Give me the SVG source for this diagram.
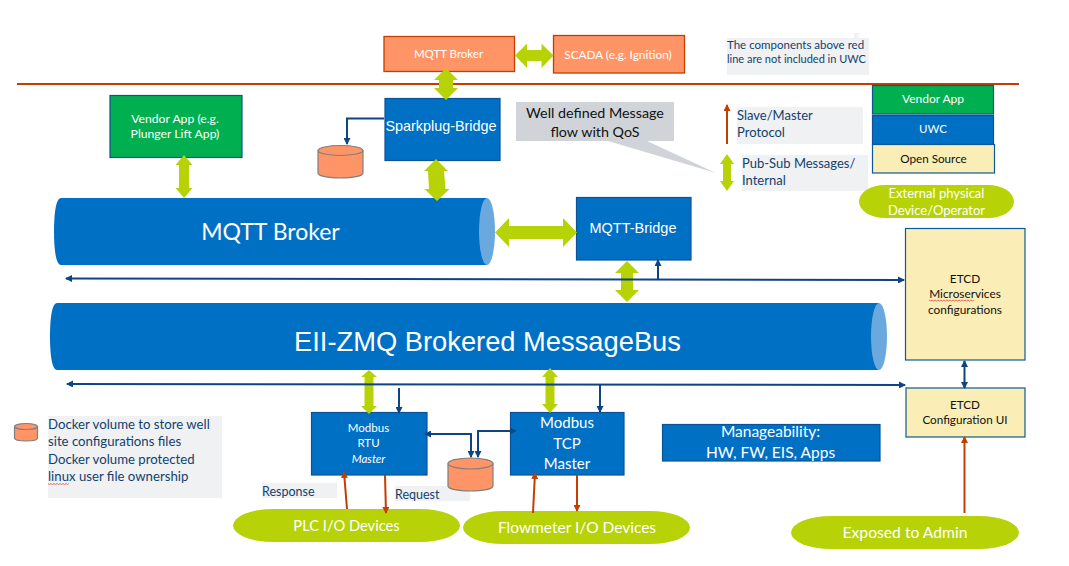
<svg xmlns="http://www.w3.org/2000/svg" width="1069" height="566" viewBox="0 0 1069 566">
<style>
text{font-family:"Lato","Open Sans",sans-serif;text-anchor:middle}
.w{fill:#fff}.k{fill:#111}.n{fill:#123f6d;text-anchor:start}
.r{font-family:"Liberation Sans",sans-serif}
.blue{fill:#0070c5;stroke:#0b5394;stroke-width:1.2}
.org{fill:#ff9466;stroke:#c43e00;stroke-width:1.3}
.grn{fill:#00b050;stroke:#0b5394;stroke-width:1.2}
.yel{fill:#faedb5;stroke:#0b5a9c;stroke-width:1.2}
.lime{fill:#b7d307}
.note{fill:#eff1f3}
.cyl{fill:#ff9466;stroke:#7f7f7f;stroke-width:1.2}
.nav{fill:none;stroke:#0e4482;stroke-width:2}
.red{fill:none;stroke:#c43e00;stroke-width:2}
.wavy{fill:none;stroke:#e03030;stroke-width:.7}
</style>
<defs>
<marker id="an" markerWidth="7" markerHeight="7" refX="6" refY="3.500" orient="auto-start-reverse" markerUnits="userSpaceOnUse"><path d="M0 0L7 3.500L0 7Z" fill="#0e4482"/></marker>
<marker id="ar" markerWidth="7" markerHeight="7" refX="6" refY="3.500" orient="auto-start-reverse" markerUnits="userSpaceOnUse"><path d="M0 0L7 3.500L0 7Z" fill="#c43e00"/></marker>
</defs>

<path d="M17 84H1019" fill="none" stroke="#c43e00" stroke-width="2"/>

<g id="notes">
<path class="note" d="M727 38H854V33H858.500V38H869V75H727Z"/>
<text class="n" font-size="11.500" x="727" y="49">The components above red</text>
<text class="n" font-size="11" x="727" y="63">line are not included in UWC</text>
<rect class="note" x="737" y="107" width="126" height="37"/>
<text class="n" font-size="13" x="737" y="120">Slave/Master</text>
<text class="n" font-size="13" x="737" y="137">Protocol</text>
<rect class="note" x="742" y="155" width="126" height="36"/>
<text class="n" font-size="13" x="742" y="168">Pub-Sub Messages/</text>
<text class="n" font-size="13" x="742" y="185">Internal</text>
</g>

<g id="callout">
<path fill="#d0d4d8" d="M516 102H674V141H647L716 173L608 141H516Z"/>
<text class="k" font-size="14.300" x="595" y="118">Well defined Message</text>
<text class="k" font-size="14.300" x="595" y="137">flow with QoS</text>
</g>

<g id="docker-note">
<rect class="note" x="48" y="416" width="174" height="82"/>
<text class="n" font-size="13.200" x="48" y="429">Docker volume to store well</text>
<text class="n" font-size="13.200" x="48" y="446">site configurations files</text>
<text class="n" font-size="13.200" x="48" y="464">Docker volume protected</text>
<text class="n" font-size="13.200" x="48" y="481">linux user file ownership</text>
<path class="wavy" d="M48 483.500l1.500 1 1.500-1 1.500 1 1.500-1 1.500 1 1.500-1 1.500 1 1.500-1 1.500 1 1.500-1 1.500 1 1.500-1 1.500 1 1.500-1"/>
</g>
<g id="response-label"><rect class="note" x="262" y="483" width="75" height="15"/><text class="n" font-size="12.500" x="262" y="496">Response</text></g>
<g id="request-label"><rect class="note" x="395" y="486" width="75" height="15"/><text class="n" font-size="12.500" x="395" y="499">Request</text></g>

<g id="mqtt-broker-top"><rect class="org" x="384" y="36.500" width="130.500" height="35"/><text class="w" font-size="11.500" x="448.500" y="58">MQTT Broker</text></g>
<g id="scada"><rect class="org" x="553.500" y="35.500" width="131" height="37.500"/><text class="w" font-size="11.800" x="618" y="59">SCADA (e.g. Ignition)</text></g>
<g id="vendor-app"><rect class="grn" x="110" y="95.500" width="132" height="62"/><text class="w" font-size="12.200" x="175" y="122.500">Vendor App (e.g.</text><text class="w" font-size="12.200" x="175" y="137.500">Plunger Lift App)</text></g>
<g id="sparkplug-bridge"><rect class="blue" x="385" y="98.500" width="115" height="62"/><text class="w r" font-size="14.400" x="441" y="131">Sparkplug-Bridge</text></g>
<g id="sparkplug-volume"><path class="cyl" d="M318 150.500V173c0 3 10 5 22.500 5s22.500-2 22.500-5V150.500"/><ellipse class="cyl" cx="340.500" cy="150.500" rx="22.500" ry="5"/></g>

<g id="mqtt-broker"><path fill="#0070c5" d="M61 198H487V265H61C56 265 54 250 54 231.500S56 198 61 198Z"/><ellipse fill="#6aa9dd" cx="487" cy="231.500" rx="8" ry="33.500"/><text class="w" font-size="23" x="270.500" y="240">MQTT Broker</text></g>
<g id="mqtt-bridge"><rect class="blue" x="576.500" y="197.500" width="114.500" height="62.500"/><text class="w r" font-size="14.500" x="633" y="233">MQTT-Bridge</text></g>
<g id="eii-bus"><path fill="#0070c5" d="M57 303H879V370H57C52 370 50 355 50 336.500S52 303 57 303Z"/><ellipse fill="#6aa9dd" cx="879" cy="336.500" rx="8" ry="33.500"/><text class="w r" font-size="27.300" x="487.500" y="351">EII-ZMQ Brokered MessageBus</text></g>

<g id="legend-vendor"><rect class="grn" x="872.500" y="85.500" width="121" height="28.500"/><text class="w" font-size="12" x="933" y="103">Vendor App</text></g>
<g id="legend-uwc"><rect class="blue" x="872.500" y="115.500" width="121" height="29"/><text class="w" font-size="11.500" x="933" y="133">UWC</text></g>
<g id="legend-open"><rect class="yel" x="872.500" y="144.500" width="122" height="28.500"/><text class="k" font-size="11.700" x="933.500" y="163">Open Source</text></g>
<g id="legend-external"><rect class="lime" x="859" y="185" width="155" height="33" rx="26" ry="16.500"/><text class="w" font-size="13" x="936.500" y="198">External physical</text><text class="w" font-size="13" x="936.500" y="215">Device/Operator</text></g>

<g id="etcd"><rect class="yel" x="905.500" y="228.500" width="119.500" height="131.500"/><text class="k" font-size="11.800" x="965" y="283">ETCD</text><text class="k" font-size="11.800" x="965" y="298">Microservices</text><text class="k" font-size="11.800" x="965" y="314">configurations</text>
<path class="wavy" d="M929 300l1.500 1 1.500-1 1.500 1 1.500-1 1.500 1 1.500-1 1.500 1 1.500-1 1.500 1 1.500-1 1.500 1 1.500-1 1.500 1 1.500-1 1.500 1 1.500-1 1.500 1 1.500-1 1.500 1 1.500-1 1.500 1 1.500-1 1.500 1 1.500-1 1.500 1 1.500-1 1.500 1 1.500-1 1.500 1 1.500-1"/></g>
<g id="etcd-ui"><rect class="yel" x="906" y="388" width="119" height="49"/><text class="k" font-size="11.700" x="965" y="409">ETCD</text><text class="k" font-size="11.700" x="965" y="424">Configuration UI</text></g>

<g id="modbus-rtu"><rect class="blue" x="311.500" y="412.500" width="115.500" height="62.500"/><text class="w" font-size="11.500" x="368.500" y="432">Modbus</text><text class="w" font-size="11.500" x="368.500" y="447">RTU</text><text class="w" font-size="11.500" font-style="italic" x="368.500" y="463">Master</text></g>
<g id="modbus-tcp"><rect class="blue" x="510.500" y="412.500" width="113.500" height="62.500"/><text class="w" font-size="15" x="567" y="428">Modbus</text><text class="w" font-size="15" x="567" y="449">TCP</text><text class="w" font-size="15" x="567" y="469">Master</text></g>
<g id="modbus-volume"><path class="cyl" d="M448 463.500V486c0 3 10 5 22.500 5s22.500-2 22.500-5V463.500"/><ellipse class="cyl" cx="470.500" cy="463.500" rx="22.500" ry="5.500"/></g>
<g id="legend-volume"><path class="cyl" d="M14.500 426.500V438c0 2 5 3 11.500 3s11.500-1 11.500-3V426.500"/><ellipse class="cyl" cx="26" cy="426.500" rx="11.500" ry="3"/></g>
<g id="manageability"><rect class="blue" x="662.500" y="424.500" width="217.500" height="36.500"/><text class="w" font-size="15.500" x="770.500" y="437">Manageability:</text><text class="w" font-size="15.500" x="770.500" y="458">HW, FW, EIS, Apps</text></g>

<g id="plc"><rect class="lime" x="233" y="509" width="227" height="33" rx="40" ry="16.500"/><text class="w" font-size="14.700" x="346.500" y="531">PLC I/O Devices</text></g>
<g id="flowmeter"><rect class="lime" x="463" y="511" width="227" height="33" rx="40" ry="16.500"/><text class="w" font-size="15.500" x="577" y="533">Flowmeter I/O Devices</text></g>
<g id="admin"><rect class="lime" x="791" y="516" width="228" height="33" rx="40" ry="16.500"/><text class="w" font-size="15.700" x="905" y="538">Exposed to Admin</text></g>

<g id="connectors">
<polygon class="lime" points="515,55.500 527,43.500 527,50 541.500,50 541.500,43.500 553.500,55.500 541.500,68 541.500,61 527,61 527,68"/>
<polygon class="lime" points="446,68 458,80 453,80 453,88 458,88 446,100 434,88 439,88 439,80 434,80"/>
<polygon class="lime" points="184,155 192.500,165 189,165 189,188 192.500,188 184,198 175.500,188 179,188 179,165 175.500,165"/>
<polygon class="lime" points="436,159 448,171 444,171 445.500,189 449.500,189 437,201 424.500,189 429,189 428,171 424,171"/>
<polygon class="lime" points="495,232.500 509,218 509,226 563,226 563,218 577,232.500 563,247 563,239 509,239 509,247"/>
<polygon class="lime" points="627,261 639,273 633,273 633,290 639,290 627,302 615,290 621,290 621,273 615,273"/>
<polygon class="lime" points="369,370 377,377 373.500,377 373.500,406 377,406 369,414 361,406 364.500,406 364.500,377 361,377"/>
<polygon class="lime" points="550,368 558,377 554.500,377 554.500,404 558,404 550,413 542,404 545.500,404 545.500,377 542,377"/>
<polygon class="lime" points="727,154 734,164 731,164 731,181 734,181 727,191 720,181 723,181 723,164 720,164"/>
<path class="nav" marker-end="url(#an)" d="M384 118.500H347V144"/>
<path class="nav" marker-start="url(#an)" marker-end="url(#an)" d="M66 278.500L904 280"/>
<path class="nav" marker-end="url(#an)" d="M658 280V260"/>
<path class="nav" marker-start="url(#an)" marker-end="url(#an)" d="M67 384L905 385"/>
<path class="nav" marker-end="url(#an)" d="M399 388V413"/>
<path class="nav" marker-end="url(#an)" d="M600 385V412"/>
<path class="nav" marker-start="url(#an)" marker-end="url(#an)" d="M425 434H471V457"/>
<path class="nav" marker-start="url(#an)" marker-end="url(#an)" d="M515.500 431H478V457"/>
<path class="nav" marker-start="url(#an)" marker-end="url(#an)" d="M964.500 361V388"/>
<path class="red" marker-end="url(#ar)" d="M727 144V105"/>
<path class="red" marker-end="url(#ar)" d="M347 509L344 472"/>
<path class="red" marker-end="url(#ar)" d="M385 475L386 513"/>
<path class="red" marker-end="url(#ar)" d="M533 513L535 473"/>
<path class="red" marker-end="url(#ar)" d="M577 475V511"/>
<path class="red" marker-end="url(#ar)" d="M964.500 513V437"/>
</g>
</svg>
